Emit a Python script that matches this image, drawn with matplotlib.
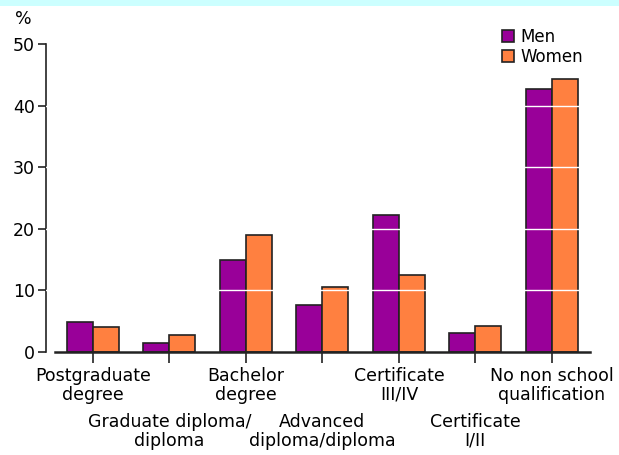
import matplotlib

matplotlib.use("Agg")
import matplotlib.pyplot as plt
from matplotlib.patches import Rectangle
import numpy as np

CATEGORIES = [
    "Postgraduate\ndegree",
    "Graduate diploma/\ndiploma",
    "Bachelor\ndegree",
    "Advanced\ndiploma/diploma",
    "Certificate\nIII/IV",
    "Certificate\nI/II",
    "No non school\nqualification",
]
MEN = [4.9, 1.4, 14.9, 7.6, 22.2, 3.1, 42.7]
WOMEN = [4.1, 2.75, 19.0, 10.5, 12.5, 4.2, 44.3]
YTICKS = [0, 10, 20, 30, 40, 50]

PURPLE = "#990099"
ORANGE = "#ff8040"
INK = "#222222"

plt.rcParams["font.family"] = "DejaVu Sans"

fig = plt.figure(figsize=(6.19, 4.55), dpi=100)
fig.patches.append(
    Rectangle((0, 0.986), 1, 0.014, transform=fig.transFigure,
              facecolor="#ccffff", edgecolor="none")
)
ax = fig.add_axes([0.0743, 0.2264, 0.879, 0.677])

x = np.arange(len(CATEGORIES))
w = 0.34
ax.bar(x - w / 2, MEN, w, color=PURPLE, edgecolor=INK, lw=1.2, label="Men", zorder=2)
ax.bar(x + w / 2, WOMEN, w, color=ORANGE, edgecolor=INK, lw=1.2, label="Women", zorder=2)
for yv in YTICKS[1:-1]:
    ax.axhline(yv, color="white", lw=1, zorder=3)

ax.set_xlim(-0.614, 6.5)
ax.set_ylim(0, 50)
ax.set_yticks(YTICKS)
# alternate labels on two rows: even categories on major ticks, odd on minor
ax.set_xticks(x[0::2])
ax.set_xticklabels(CATEGORIES[0::2], fontsize=12.5, linespacing=1.05)
ax.set_xticks(x[1::2], minor=True)
ax.set_xticklabels(CATEGORIES[1::2], minor=True, fontsize=12.5, linespacing=1.05)
ax.tick_params(axis="y", labelsize=12.5, length=6, width=1.2, color=INK, pad=2)
ax.tick_params(axis="x", which="major", length=8, width=1.2, color=INK, pad=3)
ax.tick_params(axis="x", which="minor", length=8, width=1.2, color=INK, pad=36)
for s in ["top", "right"]:
    ax.spines[s].set_visible(False)
ax.spines["left"].set_color(INK)
ax.spines["bottom"].set_color(INK)
ax.spines["left"].set_linewidth(1.2)
ax.spines["bottom"].set_linewidth(1.8)
ax.spines["bottom"].set_bounds(-0.5, 6.5)

fig.text(0.024, 0.958, "%", fontsize=12.5, ha="left", va="center")
ax.legend(loc="upper right", bbox_to_anchor=(1.0, 1.075), frameon=False,
          fontsize=12, handlelength=0.75, handleheight=0.75, handletextpad=0.4,
          labelspacing=0.15, borderaxespad=0)

fig.savefig("out.png", dpi=100)
